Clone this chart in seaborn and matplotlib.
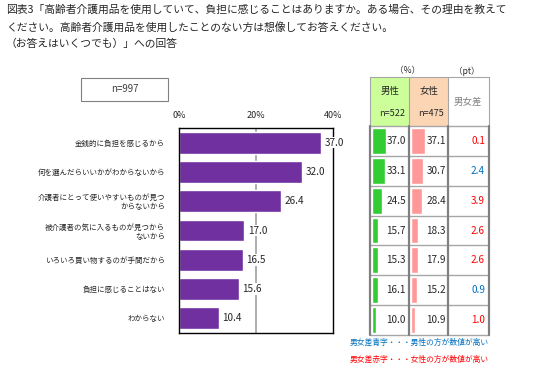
import numpy as np
import pandas as pd
import matplotlib
matplotlib.use("Agg")
import matplotlib.pyplot as plt
from matplotlib.patches import Rectangle
import seaborn as sns

# data
reasons = ['金銭的に負担を感じるから',
           '何を選んだらいいかがわからないから',
           '介護者にとって使いやすいものが見つ\nからないから',
           '被介護者の気に入るものが見つから\nないから',
           'いろいろ買い物するのが手間だから',
           '負担に感じることはない',
           'わからない']
total = [37.0, 32.0, 26.4, 17.0, 16.5, 15.6, 10.4]
male = [37.0, 33.1, 24.5, 15.7, 15.3, 16.1, 10.0]
female = [37.1, 30.7, 28.4, 18.3, 17.9, 15.2, 10.9]
diff = [0.1, 2.4, 3.9, 2.6, 2.6, 0.9, 1.0]
x_ticks = [0, 20, 40]
title_lines = ['図表3「高齢者介護用品を使用していて、負担に感じることはありますか。ある場合、その理由を教えて',
               'ください。高齢者介護用品を使用したことのない方は想像してお答えください。',
               '（お答えはいくつでも）」への回答']

df = pd.DataFrame({'reason': reasons, 'total': total, 'male': male, 'female': female})

sns.set_style('white')
plt.rcParams['font.family'] = ['Noto Sans CJK JP', 'DejaVu Sans']

W, H = 536, 382
fig = plt.figure(figsize=(W / 100, H / 100), dpi=100)


def px(x0, y0, x1, y1):
    # pixel box -> figure fraction rect
    return [x0 / W, 1 - y1 / H, (x1 - x0) / W, (y1 - y0) / H]


# title
for i, line in enumerate(title_lines):
    fig.text(6 / W, 1 - (10 + 17 * i) / H, line, fontsize=7.75, va='center', ha='left')

# n box
fig.patches.append(Rectangle((81 / W, 1 - 101 / H), 87 / W, 23 / H, transform=fig.transFigure,
                             fc='white', ec='#808080', lw=0.8))
fig.text(124.5 / W, 1 - 89.5 / H, 'n=997', fontsize=7, ha='center', va='center', color='#404040')

# main bar chart
ax = fig.add_axes(px(179, 128, 333, 333))
sns.barplot(data=df, x='total', y='reason', color='#7030A0', saturation=1, width=0.75,
            orient='h', ax=ax, zorder=2)
ax.set_xlim(0, 40)
ax.axvline(20, color='#A0A0A0', lw=1.2, zorder=1)
ax.xaxis.tick_top()
ax.set_xticks(x_ticks)
ax.set_xticklabels([f'{t}%' for t in x_ticks], fontsize=6.5)
ax.tick_params(axis='x', length=0, pad=6)
ax.tick_params(axis='y', length=0, pad=10, labelsize=5.4)
ax.set_xlabel('')
ax.set_ylabel('')
for s in ax.spines.values():
    s.set_color('black')
    s.set_linewidth(1)
for i, v in enumerate(total):
    ax.text(v + 0.9, i, f'{v:.1f}', va='center', ha='left', fontsize=7.2, zorder=5,
            clip_on=False, bbox=dict(fc='white', ec='none', pad=0.6))

# table frame
tab = fig.add_axes(px(368, 60, 492, 337))
tab.set_xlim(368, 492)
tab.set_ylim(337, 60)
tab.axis('off')
row_top, row_bot = 126, 335
n = len(reasons)
row_h = (row_bot - row_top) / n
tab.add_patch(Rectangle((370, 77), 39, 49, fc='#CCFF99', ec='none'))
tab.add_patch(Rectangle((409, 77), 39, 49, fc='#FCD5B4', ec='none'))
tab.plot([370, 489], [77, 77], color='#A6A6A6', lw=0.8)
for k in range(n + 1):
    tab.plot([370, 489], [row_top + k * row_h] * 2, color='#A6A6A6', lw=1)
for xv in [370, 409, 448, 489]:
    tab.plot([xv, xv], [77, 126], color='#A6A6A6', lw=0.8)
    tab.plot([xv, xv], [126, 335], color='#808080', lw=1.6)

tab.text(408, 71, '（%）', fontsize=6.2, ha='center', va='center')
tab.text(467, 71, '（pt）', fontsize=6.2, ha='center', va='center')
tab.text(390, 91, '男性', fontsize=6.8, ha='center', va='center')
tab.text(392, 113, 'n=522', fontsize=6.5, ha='center', va='center')
tab.text(429, 91, '女性', fontsize=6.8, ha='center', va='center')
tab.text(431, 113, 'n=475', fontsize=6.5, ha='center', va='center')
tab.text(468, 102, '男女差', fontsize=6.8, ha='center', va='center', color='#808080')

for i in range(n):
    yc = row_top + (i + 0.5) * row_h
    tab.text(406, yc, f'{male[i]:.1f}', fontsize=7.2, ha='right', va='center', zorder=5)
    tab.text(446, yc, f'{female[i]:.1f}', fontsize=7.2, ha='right', va='center', zorder=5)
    col = '#FF0000' if female[i] > male[i] else '#0070C0'
    tab.text(485, yc, f'{diff[i]:.1f}', fontsize=7.2, ha='right', va='center', color=col)

# mini bars inside table
for col_name, color, x0 in [('male', '#33CC33', 371), ('female', '#FF9999', 410)]:
    mini = fig.add_axes(px(x0, row_top, x0 + 38, row_bot))
    sns.barplot(data=df, x=col_name, y='reason', color=color, saturation=1, width=0.87,
                orient='h', ax=mini)
    mini.set_xlim(-3, 96.4)
    mini.axis('off')
    mini.patch.set_alpha(0)

# legend notes
fig.text(350 / W, 1 - 343 / H, '男女差青字・・・男性の方が数値が高い', fontsize=5.6,
         color='#0070C0', va='center')
fig.text(350 / W, 1 - 360 / H, '男女差赤字・・・女性の方が数値が高い', fontsize=5.6,
         color='#FF0000', va='center')

fig.savefig('out.png', dpi=100)
